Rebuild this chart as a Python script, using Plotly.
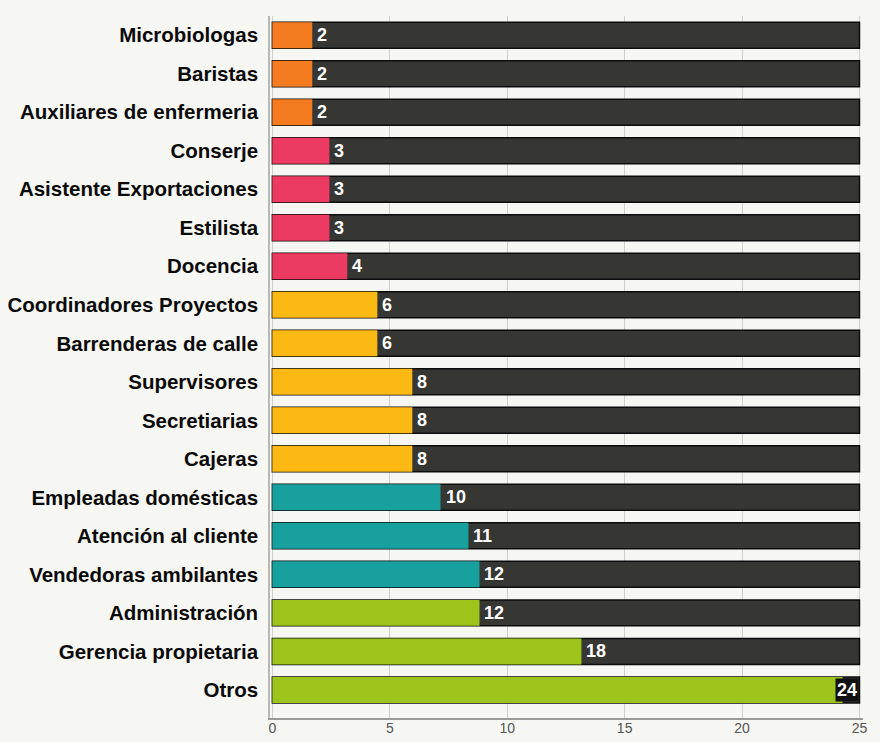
import plotly.graph_objects as go

categories = [
    "Microbiologas", "Baristas", "Auxiliares de enfermeria", "Conserje",
    "Asistente Exportaciones", "Estilista", "Docencia", "Coordinadores Proyectos",
    "Barrenderas de calle", "Supervisores", "Secretiarias", "Cajeras",
    "Empleadas domésticas", "Atención al cliente", "Vendedoras ambilantes",
    "Administración", "Gerencia propietaria", "Otros",
]
# printed value labels
values = [2, 2, 2, 3, 3, 3, 4, 6, 6, 8, 8, 8, 10, 11, 12, 12, 18, 24]
# bar lengths as drawn in the picture (read against the axis)
bar_lengths = [1.70, 1.70, 1.70, 2.43, 2.43, 2.43, 3.19, 4.47, 4.47, 5.96, 5.96, 5.96,
               7.16, 8.35, 8.82, 8.82, 13.16, 24.28]
groups = ["a", "a", "a", "b", "b", "b", "b", "c", "c", "c", "c", "c",
          "d", "d", "d", "e", "e", "e"]
scale_max = 25
tick_vals = [0, 5, 10, 15, 20, 25]

group_colors = {"a": "#F47B20", "b": "#EC3A62", "c": "#FDB913", "d": "#17A09E", "e": "#9DC41A"}
dark = "#363633"
bg = "#F6F6F2"

fig = go.Figure()
fig.add_trace(go.Bar(
    y=categories, x=[scale_max] * len(categories), orientation="h",
    marker=dict(color=dark, line=dict(color="#0c0c0c", width=1.5)),
    hoverinfo="skip", showlegend=False,
))
fig.add_trace(go.Bar(
    y=categories, x=bar_lengths, orientation="h",
    marker=dict(color=[group_colors[g] for g in groups], line=dict(width=0)),
    showlegend=False,
))

annotations = []
for cat, val, ln in zip(categories, values, bar_lengths):
    boxed = ln > scale_max - 2
    annotations.append(dict(
        x=scale_max if boxed else ln, y=cat, xref="x", yref="y", text=str(val), showarrow=False,
        xanchor="right" if boxed else "left", yanchor="middle", xshift=0 if boxed else 4,
        font=dict(family="Liberation Sans Narrow, Liberation Sans, Arial", size=18, color="white", weight="bold"),
        bgcolor="#111111" if boxed else None, borderpad=1 if boxed else 0,
    ))

n = len(categories)
fig.update_layout(
    width=880, height=742,
    margin=dict(l=270, r=17, t=16, b=24),
    paper_bgcolor=bg, plot_bgcolor=bg,
    barmode="overlay", bargap=0.325,
    annotations=annotations,
    xaxis=dict(
        range=[-0.1, 25.15], tickvals=tick_vals, ticktext=[str(t) for t in tick_vals],
        showgrid=True, gridcolor="#cfcfcb", gridwidth=1, zeroline=False,
        showline=True, linecolor="#9a9a98", linewidth=1.5,
        tickfont=dict(family="Liberation Sans, Arial", size=14, color="#555555"),
        ticklabelstandoff=-4, automargin=False,
    ),
    yaxis=dict(
        range=[n - 0.5 + 0.23, -0.5], showgrid=False, zeroline=False,
        showline=True, linecolor="#b8b8b4", linewidth=1.5,
        tickfont=dict(family="Liberation Sans, Arial", size=20.5, color="#0a0a0a", weight="bold"),
        ticklabelstandoff=6, automargin=False,
    ),
)

fig.write_html(
    "out.html",
    config={"displayModeBar": False},
    post_script="document.body.style.margin='0';document.body.style.background='%s';" % bg,
)
